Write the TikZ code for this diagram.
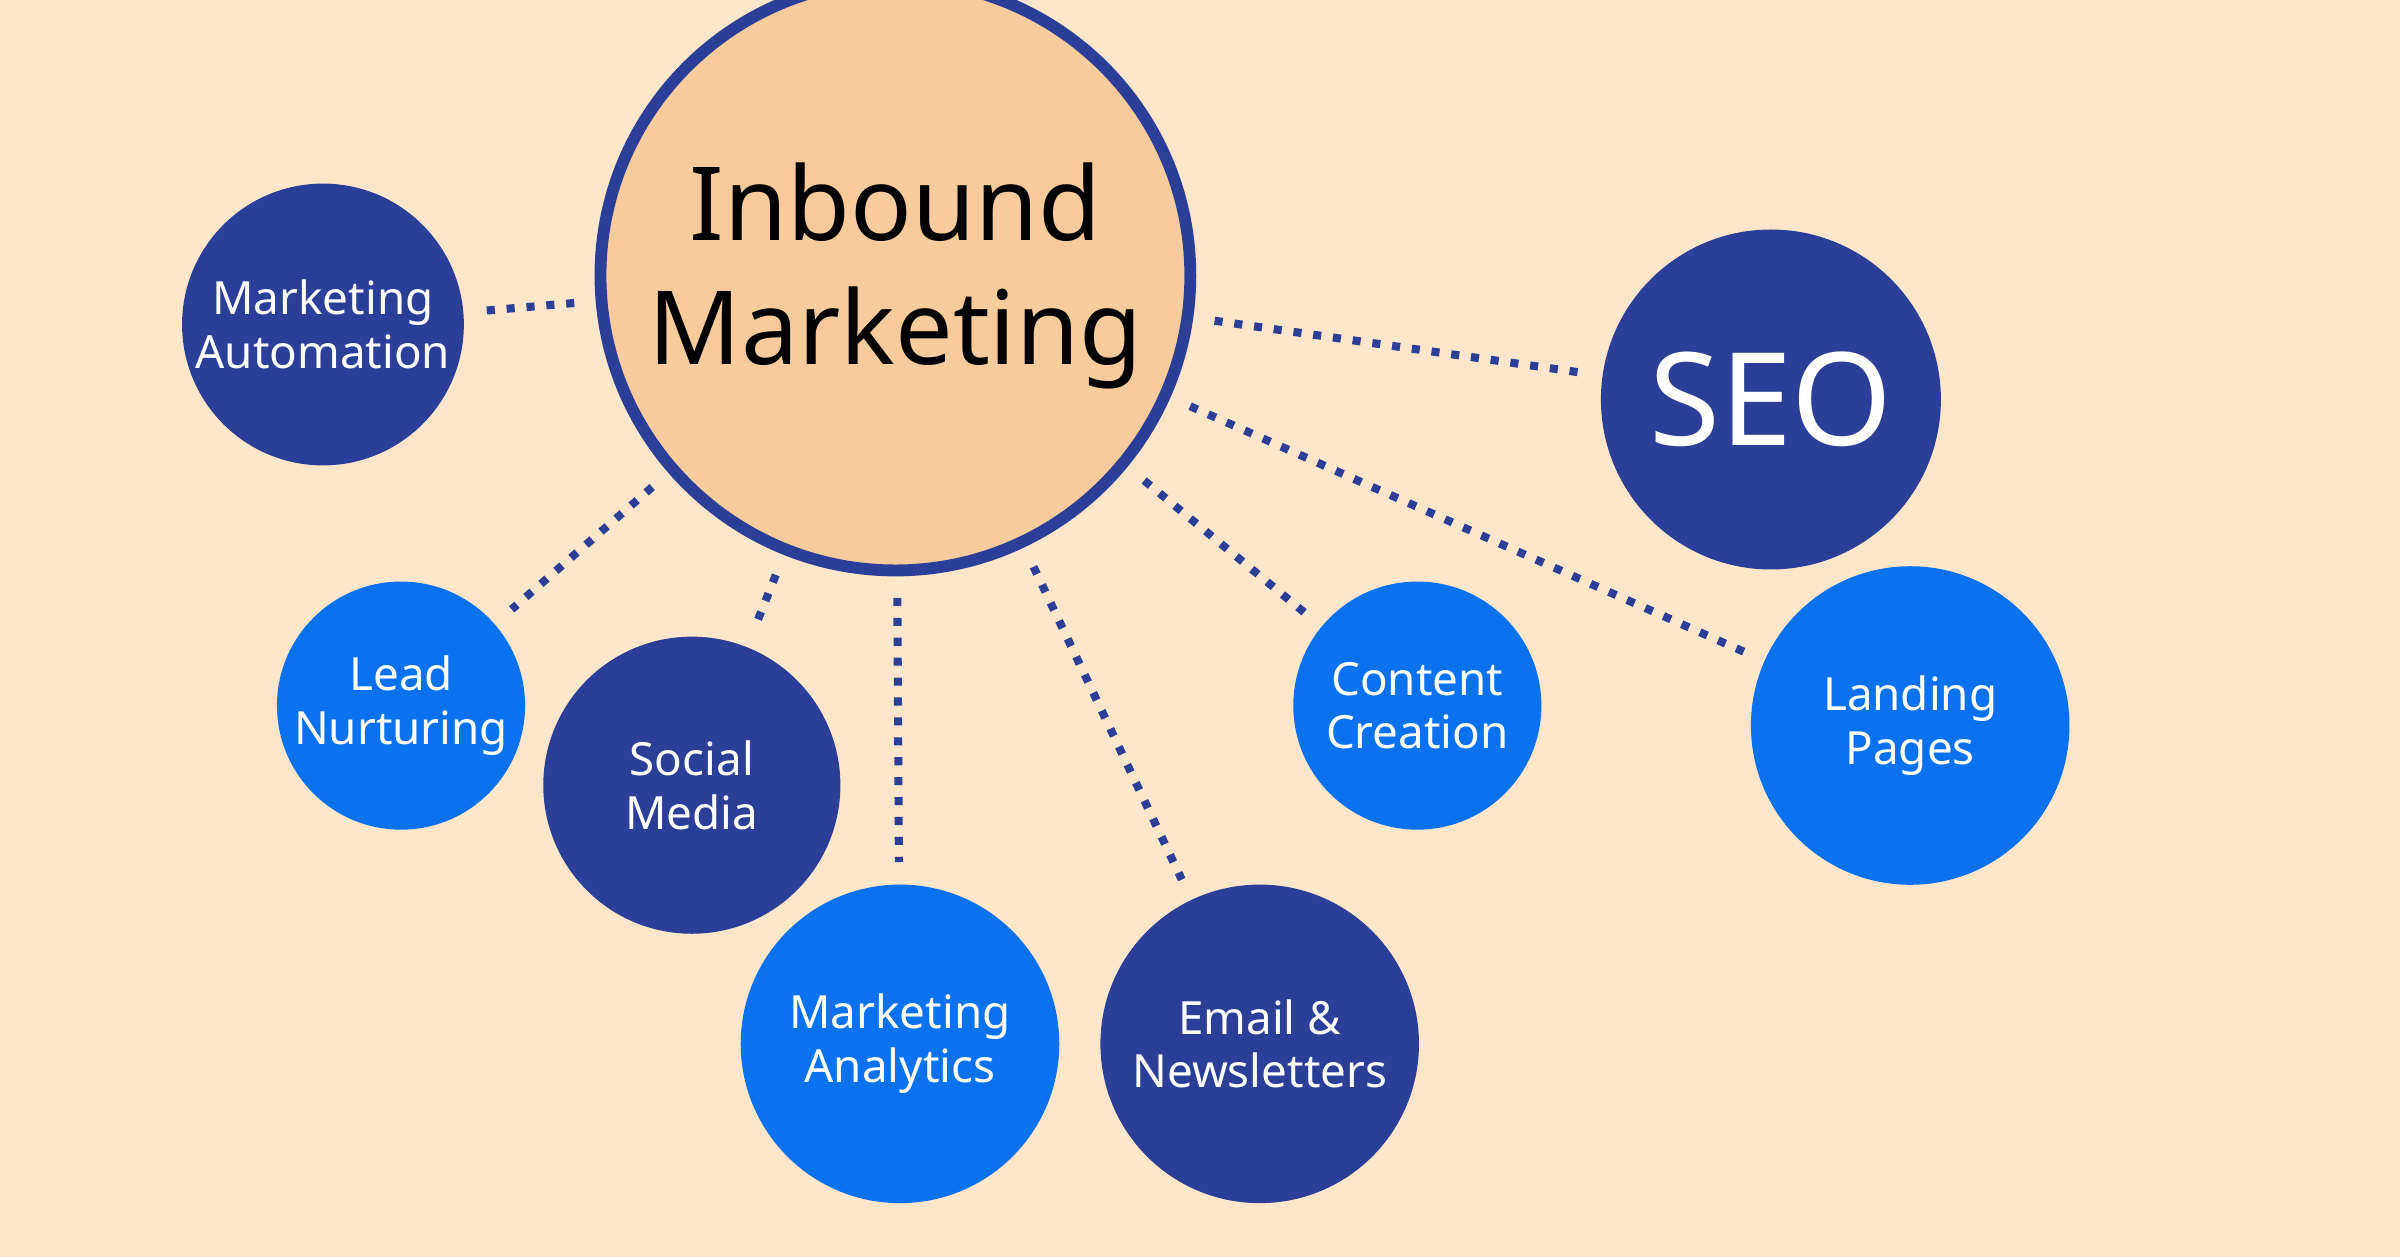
\documentclass[tikz,border=0pt]{standalone}
\usepackage{fontspec}
\setmainfont{Noto Sans}
\usetikzlibrary{positioning}
\definecolor{bgpeach}{HTML}{FDE6CA}
\definecolor{hubfill}{HTML}{F7CB9B}
\definecolor{navy}{HTML}{2B3F98}
\definecolor{brightblue}{HTML}{0A72EE}
\tikzset{dark/.style={circle, fill=navy, text=white, align=center, inner sep=0pt, font=\fontsize{8.5}{10}\selectfont},
         light/.style={dark, fill=brightblue},
         link/.style={draw=navy, line width=1.5pt, dash pattern=on 1.5pt off 2.2pt, shorten <=4pt, shorten >=4pt}}
\begin{document}
\begin{tikzpicture}[x=0.01cm,y=-0.01cm]
\fill[bgpeach] (0,0) rectangle (1568,821);
\useasboundingbox (0,0) rectangle (1568,821);
\node[circle, fill=hubfill, draw=navy, line width=2.2pt, minimum size=3.14cm, align=center,
      font=\fontsize{19}{23}\selectfont\bfseries] (hub) at (585,180) {Inbound\\Marketing};
\node[dark, minimum size=1.84cm] (auto) at (211,212) {Marketing\\Automation};
\node[dark, minimum size=2.22cm, font=\fontsize{24}{28}\selectfont] (seo) at (1157,261) {SEO};
\node[light, minimum size=1.62cm] (lead) at (262,461) {Lead\\Nurturing};
\node[dark, minimum size=1.94cm] (social) at (452,513) {Social\\Media};
\node[light, minimum size=2.08cm] (analytics) at (588,682) {Marketing\\Analytics};
\node[dark, minimum size=2.08cm] (email) at (823,682) {Email \&\\Newsletters};
\node[light, minimum size=1.62cm] (content) at (926,461) {Content\\Creation};
\node[light, minimum size=2.08cm] (landing) at (1248,474) {Landing\\Pages};
% connectors
\foreach \n in {auto,seo,lead,social,analytics,email,content,landing}
  \draw[link] (hub) -- (\n);
\end{tikzpicture}
\end{document}
